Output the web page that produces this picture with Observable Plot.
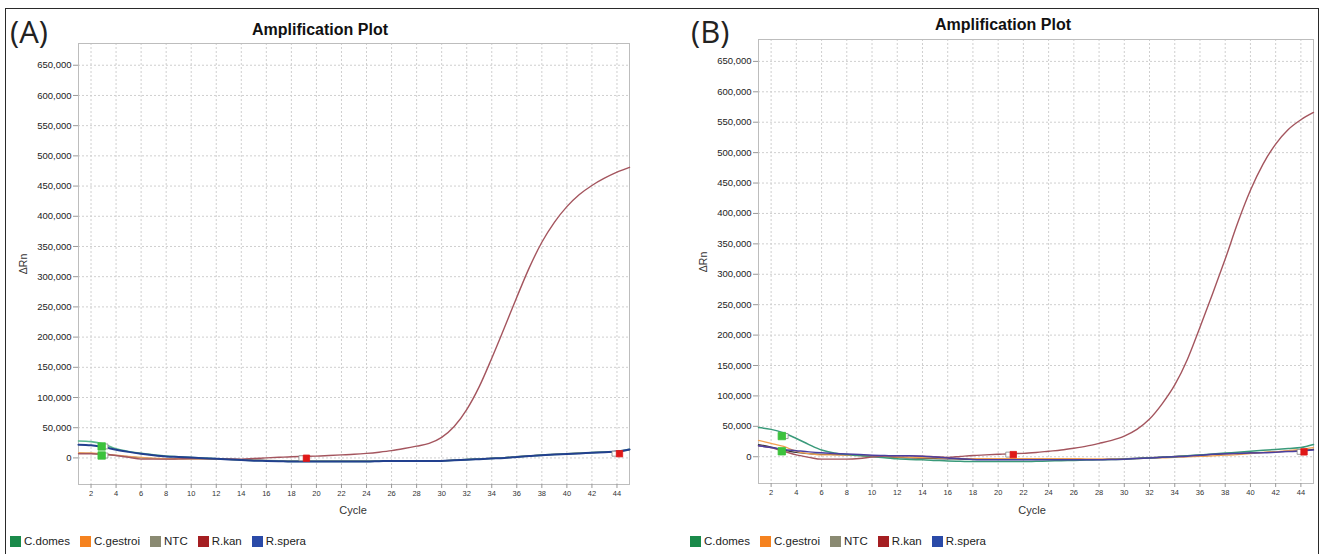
<!DOCTYPE html>
<html><head><meta charset="utf-8">
<script src="https://cdn.jsdelivr.net/npm/d3@7"></script>
<script src="https://cdn.jsdelivr.net/npm/@observablehq/plot@0.6"></script>
<style>
body{margin:0;background:#fff;}
#root{position:relative;width:1324px;height:554px;overflow:hidden;background:#fff;font-family:"Liberation Sans",Arial,sans-serif;}
.frame{position:absolute;left:5px;top:8px;width:1314px;height:600px;border:1.5px solid #2a2a2a;border-bottom:none;box-sizing:border-box;}
.panel{position:absolute;top:0;}
.title{position:absolute;font-weight:bold;font-size:16px;transform:translate(-50%,-50%);white-space:nowrap;color:#111;}
.tag{position:absolute;font-family:"Open Sans",sans-serif;font-size:31px;line-height:31px;color:#222;}
.ylab{position:absolute;font-size:10.5px;transform:translate(-50%,-50%) rotate(-90deg);color:#333;white-space:nowrap;}
.xlab{position:absolute;font-size:11px;transform:translate(-50%,-50%);color:#333;}
.legend{position:absolute;top:535px;display:flex;align-items:center;font-size:11.5px;color:#222;}
.item{display:flex;align-items:center;margin-right:10px;}
.sw{width:11px;height:11px;margin-right:3px;}
</style>
</head><body>
<div id="root"><div class="frame"></div></div>
<script>
// ---------- data ----------
const cycles = [1,2,3,4,5,6,7,8,9,10,11,12,13,14,15,16,17,18,19,20,21,22,23,24,25,26,27,28,29,30,31,32,33,34,35,36,37,38,39,40,41,42,43,44,45];
const seriesNames = ["C.domes","C.gestroi","NTC","R.kan","R.spera"];
const xTicks = [2,4,6,8,10,12,14,16,18,20,22,24,26,28,30,32,34,36,38,40,42,44];
const yTicks = [0,50000,100000,150000,200000,250000,300000,350000,400000,450000,500000,550000,600000,650000];

// Panel A values (ΔRn per cycle)
const aCdomes = [28000,27000,23000,15000,10500,7500,5000,3000,2000,800,-300,-1300,-2300,-3300,-4300,-4800,-5300,-5800,-5800,-5800,-5800,-5800,-5800,-5800,-5300,-4800,-4800,-4800,-4800,-4800,-3800,-2800,-1800,-800,200,1700,3200,4700,5700,6700,7700,8700,9700,10700,14200];
const aCgestroi = [9000,8500,7000,4500,2500,800,-500,-1200,-1500,-1500,-1600,-2000,-2600,-3200,-3800,-4300,-4800,-5200,-5300,-5300,-5300,-5300,-5300,-5300,-5000,-4700,-4700,-4700,-4700,-4700,-3700,-2700,-1700,-700,300,1800,3300,4800,5800,6800,7800,8800,9800,10800,13800];
const aNtc = [8000,7500,6000,4000,2000,0,-1000,-1500,-1500,-1500,-1500,-2000,-2500,-3000,-3500,-4000,-4500,-5000,-5000,-5000,-5000,-5000,-5000,-5000,-5000,-4500,-4500,-4500,-4500,-4500,-3500,-2500,-1500,-500,500,2000,3500,5000,6000,7000,8000,9000,10000,11000,13000];
const aRkan = [7000,7000,6000,4000,1000,-2000,-2000,-2000,-1500,-1000,-1200,-1500,-1800,-2000,-1000,0,1000,2000,2500,3000,4000,5000,6000,7500,9500,12000,15500,19500,24000,34000,52000,80000,118000,165000,215000,266000,315000,357000,390000,416000,436000,451000,463000,473000,481000];
const aRspera = [22000,21000,18000,13500,10000,7000,4500,2500,1500,500,-500,-1500,-2500,-3500,-4500,-5000,-5500,-6000,-6000,-6000,-6000,-6000,-6000,-6000,-5500,-5000,-5000,-5000,-5000,-5000,-4000,-3000,-2000,-1000,0,1500,3000,4500,5500,6500,7500,8500,9500,10500,14000];

// Panel B values
const bCdomes = [48000,45000,39000,30000,20000,11000,6000,3500,2000,0,-1500,-3500,-4500,-5000,-6000,-7000,-7500,-8000,-8000,-8000,-8000,-8000,-7500,-7000,-6500,-6000,-5500,-5000,-4500,-4000,-3000,-2000,-1000,0,1500,3000,4500,6000,7500,9000,10500,12000,13500,15000,20000];
const bCgestroi = [27000,22000,17000,9000,5000,3000,3000,2500,2000,1000,0,-500,-1000,-1500,-2000,-2500,-3000,-3000,-3000,-3000,-3000,-3000,-3000,-3000,-3000,-3000,-3500,-3500,-3500,-3500,-3000,-2500,-2000,-1000,0,500,1500,2500,3500,5000,7000,8500,10000,12000,15000];
const bNtc = [20000,16000,11000,7000,5000,4000,3500,3000,2000,1000,0,-1000,-2000,-2500,-3000,-3500,-4000,-4500,-4500,-4500,-4500,-4500,-4500,-4500,-4500,-4500,-4500,-4500,-4000,-3500,-2500,-1500,-500,500,1500,2500,3500,4500,5500,6500,7000,8000,9000,10000,12000];
const bRkan = [18000,15000,9000,3000,-1000,-4000,-4000,-4000,-3000,-500,1000,1500,1500,1000,0,-1000,500,2000,3000,4000,5000,5500,7000,9000,11000,14000,17500,22000,27000,34000,45000,62000,87000,118000,160000,213000,268000,325000,385000,438000,481000,514000,538000,554000,566000];
const bRspera = [18000,15000,12000,10000,8000,6500,5500,4500,3500,2500,2000,1500,1500,1000,-500,-2000,-3500,-4500,-5000,-5000,-5000,-5000,-5000,-5000,-5000,-5000,-5000,-5000,-4500,-4000,-3000,-2000,-1000,0,1000,2500,4000,5000,5500,6000,6500,7500,8500,9500,11000];

// threshold markers: cycle, value, kind
const aMarkers = [
  {cycle:2.85, value:19000, kind:"start"},{cycle:2.85, value:4000, kind:"start"},
  {cycle:3.15, value:19000, kind:"box"},{cycle:3.15, value:4000, kind:"box"},
  {cycle:18.8, value:-500, kind:"box"},{cycle:19.2, value:-500, kind:"end"},
  {cycle:43.8, value:7000, kind:"box"},{cycle:44.2, value:7000, kind:"end"}
];
const bMarkers = [
  {cycle:2.85, value:34000, kind:"start"},{cycle:2.85, value:9000, kind:"start"},
  {cycle:3.15, value:34000, kind:"box"},
  {cycle:20.8, value:3500, kind:"box"},{cycle:21.2, value:3500, kind:"end"},
  {cycle:43.9, value:8000, kind:"box"},{cycle:44.25, value:8000, kind:"end"}
];

// ---------- styles ----------
const legendColor = {"C.domes":"#1a8a4a","C.gestroi":"#f5821f","NTC":"#8a8a72","R.kan":"#a51e22","R.spera":"#2a4aa8"};
const lineStyleA = {"NTC":["#8a8a72",1.2],"C.gestroi":["#e9a060",1.2],"C.domes":["#5ab88e",1.6],"R.kan":["#a4555e",1.4],"R.spera":["#22408f",2]};
const lineStyleB = {"NTC":["#333333",1.2],"C.gestroi":["#f2a050",1.3],"C.domes":["#3a9a7a",1.5],"R.kan":["#a4555e",1.4],"R.spera":["#4b3fa0",1.5]};
const markerStyle = {start:["#3cc23c","#3cc23c",4.2], end:["#e01818","#e01818",3.6], box:["#ffffff","#888888",2.8]};

function table(values) {
  const out = [];
  seriesNames.forEach((s, k) => values[k].forEach((v, i) => out.push({series:s, cycle:cycles[i], value:v})));
  return out;
}
const dataA = table([aCdomes,aCgestroi,aNtc,aRkan,aRspera]);
const dataB = table([bCdomes,bCgestroi,bNtc,bRkan,bRspera]);

const drawOrder = ["NTC","C.gestroi","C.domes","R.kan","R.spera"];

function makePanel(data, markers, lineStyle, m) {
  const marks = [
    Plot.gridX(xTicks, {stroke:"#cfcfcf", strokeOpacity:1, strokeDasharray:"2,2"}),
    Plot.gridY(yTicks, {stroke:"#cfcfcf", strokeOpacity:1, strokeDasharray:"2,2"}),
    Plot.frame({stroke:"#bdbdbd"}),
    Plot.axisX(xTicks, {tickSize:4, tickPadding:2, fontSize:7.5, fill:"#333", stroke:"#999", label:null}),
    Plot.axisY(yTicks, {tickSize:5, tickPadding:2, fontSize:9.5, fill:"#222", stroke:"#999", label:null, tickFormat:d3.format(",")})
  ];
  for (const s of drawOrder) {
    const [c, w] = lineStyle[s];
    marks.push(Plot.line(data.filter(d => d.series === s), {x:"cycle", y:"value", stroke:c, strokeWidth:w, curve:"monotone-x"}));
  }
  for (const k of ["box","start","end"]) {
    const [f, st, r] = markerStyle[k];
    marks.push(Plot.dot(markers.filter(d => d.kind === k), {x:"cycle", y:"value", symbol:"square", r:r, fill:f, stroke:st, strokeWidth:0.8}));
  }
  return Plot.plot({
    width:m.width, height:520,
    marginLeft:m.left, marginRight:m.right, marginTop:m.top, marginBottom:m.bottom,
    style:{background:"transparent", fontFamily:"'Liberation Sans', Arial, sans-serif"},
    x:{domain:[1,45]},
    y:{domain:[-44000,686000]},
    marks
  });
}

const root = document.getElementById("root");
function addEl(cls, text, css) {
  const el = document.createElement("div");
  el.className = cls; el.textContent = text;
  Object.assign(el.style, css);
  root.appendChild(el);
  return el;
}
function addLegend(left) {
  const lg = addEl("legend", "", {left:left+"px"});
  for (const s of seriesNames) {
    const it = document.createElement("div"); it.className = "item";
    const sw = document.createElement("div"); sw.className = "sw"; sw.style.background = legendColor[s];
    const tx = document.createElement("span"); tx.textContent = s;
    it.appendChild(sw); it.appendChild(tx); lg.appendChild(it);
  }
}

const pA = makePanel(dataA, aMarkers, lineStyleA, {width:660, left:78, right:31, top:43, bottom:36});
const wrapA = document.createElement("div"); wrapA.className = "panel"; wrapA.style.left = "0px"; wrapA.appendChild(pA); root.appendChild(wrapA);
const pB = makePanel(dataB, bMarkers, lineStyleB, {width:664, left:98, right:11, top:39, bottom:37});
const wrapB = document.createElement("div"); wrapB.className = "panel"; wrapB.style.left = "660px"; wrapB.appendChild(pB); root.appendChild(wrapB);

addEl("title", "Amplification Plot", {left:"320px", top:"30px"});
addEl("title", "Amplification Plot", {left:"1003px", top:"25px"});
addEl("tag", "(A)", {left:"10px", top:"16px"});
addEl("tag", "(B)", {left:"691px", top:"16px"});
addEl("ylab", "ΔRn", {left:"23px", top:"264px"});
addEl("ylab", "ΔRn", {left:"703px", top:"262px"});
addEl("xlab", "Cycle", {left:"353px", top:"510px"});
addEl("xlab", "Cycle", {left:"1032px", top:"510px"});
addLegend(10);
addLegend(690);
</script>
</body></html>
